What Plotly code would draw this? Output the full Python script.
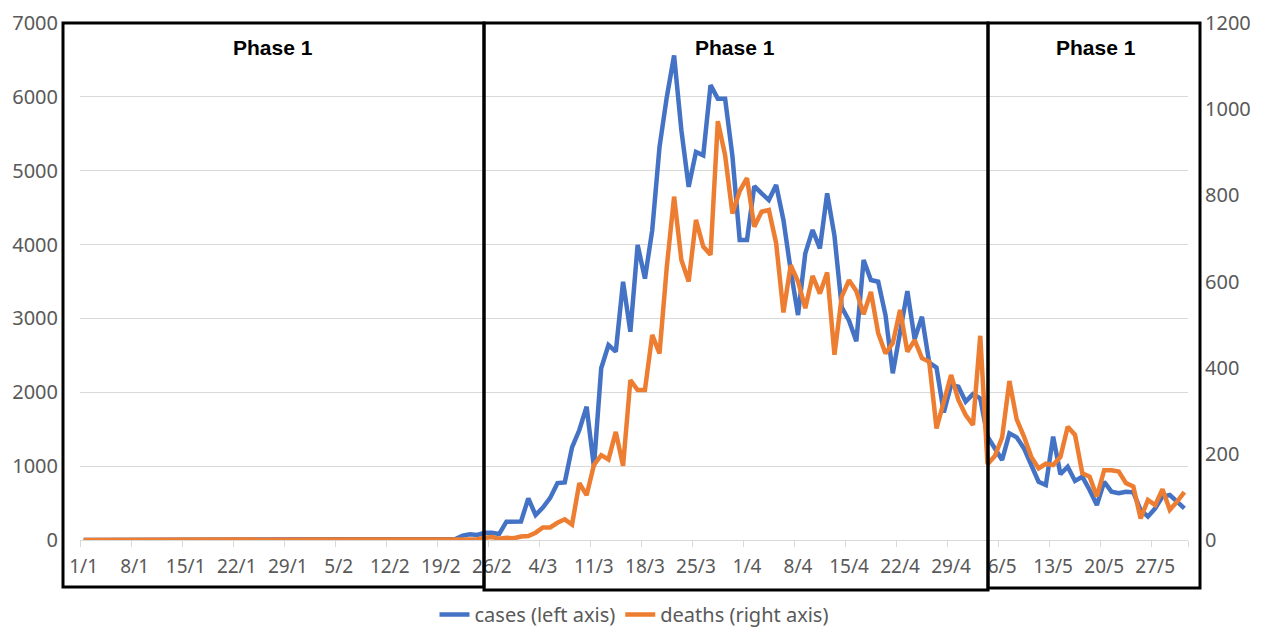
import plotly.graph_objects as go

tick_labels = ["1/1", "8/1", "15/1", "22/1", "29/1", "5/2", "12/2", "19/2", "26/2",
               "4/3", "11/3", "18/3", "25/3", "1/4", "8/4", "15/4", "22/4", "29/4",
               "6/5", "13/5", "20/5", "27/5"]

# daily values, 1/1 .. 31/5 (152 days)
cases = [
    0, 0, 0, 0, 0, 0, 0, 0, 0, 0,
    0, 0, 0, 0, 0, 0, 0, 0, 0, 0,
    0, 0, 0, 0, 0, 0, 0, 0, 0, 0,
    0, 0, 0, 0, 0, 0, 0, 0, 0, 0,
    0, 0, 0, 0, 0, 0, 0, 0, 0, 0,
    3, 14, 60, 77, 68, 98, 99, 81, 248, 245,
    250, 564, 338, 440, 570, 770, 780, 1255, 1489, 1805,
    992, 2325, 2640, 2550, 3497, 2820, 3995, 3540, 4194, 5322,
    5998, 6560, 5547, 4781, 5254, 5209, 6158, 5976, 5976, 5200,
    4062, 4062, 4790, 4694, 4603, 4806, 4333, 3650, 3046, 3881,
    4197, 3949, 4694, 4120, 3150, 2970, 2690, 3791, 3520, 3497,
    3046, 2257, 2850, 3370, 2720, 3023, 2400, 2335, 1726, 2100,
    2076, 1873, 1975, 1918, 1399, 1240, 1083, 1444, 1390, 1240,
    1010, 789, 745, 1399, 890, 992, 800, 857, 677, 474,
    789, 654, 632, 654, 645, 406, 316, 429, 587, 609,
    519, 429,
]

deaths = [
    0, 0, 0, 0, 0, 0, 0, 0, 0, 0,
    0, 0, 0, 0, 0, 0, 0, 0, 0, 0,
    0, 0, 0, 0, 0, 0, 0, 0, 0, 0,
    0, 0, 0, 0, 0, 0, 0, 0, 0, 0,
    0, 0, 0, 0, 0, 0, 0, 0, 0, 0,
    0, 0, 0, 1, 2, 5, 7, 3, 5, 4,
    8, 9, 17, 29, 29, 40, 48, 36, 132, 104,
    174, 197, 187, 251, 172, 371, 348, 348, 476, 433,
    634, 797, 650, 600, 743, 681, 662, 972, 893, 758,
    810, 840, 727, 762, 766, 689, 528, 638, 600, 538,
    613, 572, 621, 430, 565, 603, 578, 524, 576, 480,
    433, 457, 534, 437, 464, 422, 414, 259, 325, 383,
    325, 290, 267, 474, 176, 195, 238, 369, 280, 240,
    193, 166, 177, 174, 193, 263, 244, 155, 147, 101,
    162, 162, 159, 132, 124, 50, 93, 81, 118, 70,
    89, 111,
]

days = list(range(len(cases)))
tickvals = [7 * k for k in range(len(tick_labels))]

BLUE = "#4472C4"
ORANGE = "#ED7D31"
GREY = "#595959"
GRID = "#D9D9D9"

W, H = 1270, 635
L, R, T, B = 80, 1188, 23, 540  # plot area in pixels


def px(x):
    return (x - L) / (R - L)


def py(y):
    return (B - y) / (B - T)


fig = go.Figure()
fig.add_trace(go.Scatter(x=days, y=cases, name="cases (left axis)", mode="lines",
                         line=dict(color=BLUE, width=4.5), yaxis="y"))
fig.add_trace(go.Scatter(x=days, y=deaths, name="deaths (right axis)", mode="lines",
                         line=dict(color=ORANGE, width=4.5), yaxis="y2"))

xfont = dict(family="Noto Sans", size=19, color=GREY)
yfont = dict(family="Noto Sans", size=20, color=GREY)

fig.update_layout(
    width=W, height=H,
    margin=dict(l=L, r=W - R, t=T, b=H - B, autoexpand=False),
    plot_bgcolor="white", paper_bgcolor="white",
    showlegend=True,
    legend=dict(orientation="h", x=0.5, xanchor="center", y=py(634), yanchor="bottom",
                borderwidth=0, font=dict(family="Noto Sans", size=20, color=GREY)),
    xaxis=dict(range=[-0.5, len(days) - 0.5], tickmode="array", tickvals=tickvals,
               ticktext=tick_labels, tickfont=xfont, ticks="", ticklabelstandoff=9,
               automargin=False,
               showgrid=False, zeroline=False, showline=True, linecolor=GRID, linewidth=1,
               minor=dict(tickmode="array", tickvals=[v - 0.5 for v in tickvals] + [len(days) - 0.5],
                          ticks="outside", ticklen=6, tickcolor=GRID, tickwidth=1, showgrid=False)),
    yaxis=dict(range=[0, 7000], dtick=1000, tickfont=yfont, showgrid=True, gridcolor=GRID,
               gridwidth=1, zeroline=False, showline=False, ticks="", ticklabelstandoff=21,
               automargin=False),
    yaxis2=dict(range=[0, 1200], dtick=200, tickfont=yfont, overlaying="y", side="right",
                showgrid=False, zeroline=False, showline=False, ticks="", ticklabelstandoff=16,
                automargin=False),
)

boxes = [(63, 484, 587), (484, 988, 590), (988, 1200, 588)]
for x0, x1, y0 in boxes:
    fig.add_shape(type="rect", xref="paper", yref="paper", x0=px(x0), x1=px(x1),
                  y0=py(y0), y1=py(T), line=dict(color="black", width=3), layer="above")

for cx in (273, 735, 1096):
    fig.add_annotation(text="<b>Phase 1</b>", xref="paper", yref="paper", x=px(cx), y=py(47),
                       xanchor="center", yanchor="middle", showarrow=False,
                       font=dict(family="Liberation Sans", size=21, color="black"))

fig.write_html("out.html", config={"displayModeBar": False},
               post_script="document.body.style.margin='0';document.body.style.overflow='hidden';")
